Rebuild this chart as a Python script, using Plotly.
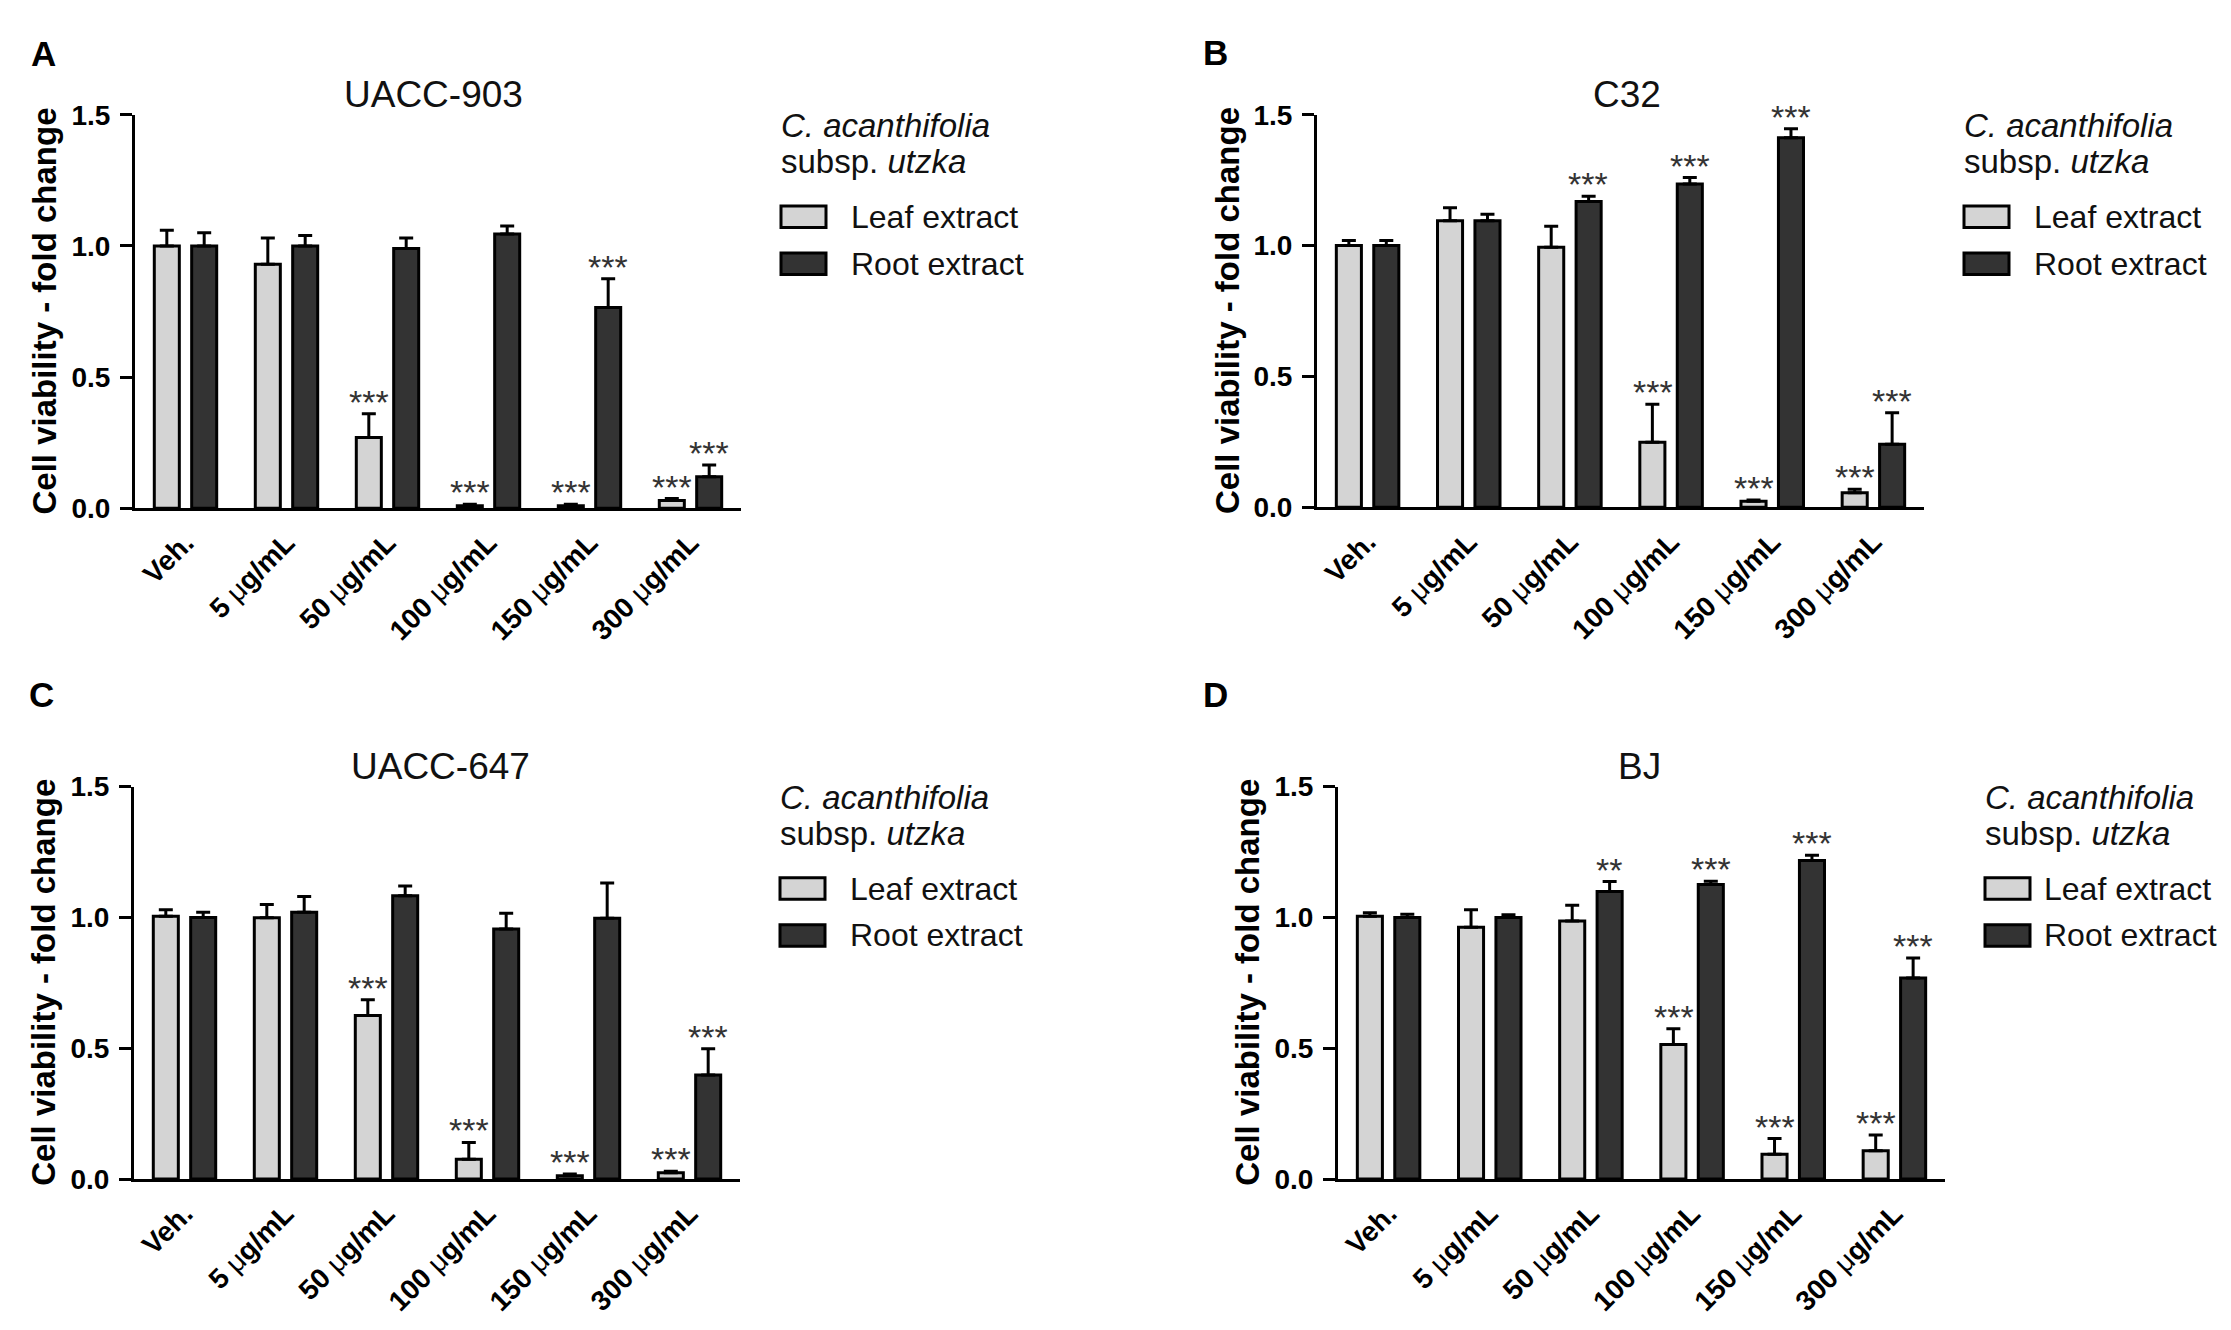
import plotly.graph_objects as go

OFF = 8  # page body margin in the browser shifts the figure by this much
W, H = 2231 - 2 * OFF, 1330 - 2 * OFF  # keep the page inside the window, no scrollbars

doses = ['Veh.', '5 μg/mL', '50 μg/mL', '100 μg/mL', '150 μg/mL', '300 μg/mL']
dose_ticks = ['<b>Veh.</b>', '<b>5 </b>μ<b>g/mL</b>', '<b>50 </b>μ<b>g/mL</b>',
              '<b>100 </b>μ<b>g/mL</b>', '<b>150 </b>μ<b>g/mL</b>', '<b>300 </b>μ<b>g/mL</b>']

# A - UACC-903
a_leaf = [1.00, 0.93, 0.27, 0.01, 0.01, 0.03]
a_leaf_err = [0.06, 0.10, 0.09, 0.005, 0.005, 0.007]
a_root = [1.00, 1.00, 0.99, 1.046, 0.765, 0.12]
a_root_err = [0.05, 0.04, 0.04, 0.03, 0.11, 0.045]
a_leaf_sig = ['', '', '***', '***', '***', '***']
a_root_sig = ['', '', '', '', '***', '***']

# B - C32
b_leaf = [1.00, 1.095, 0.994, 0.249, 0.023, 0.056]
b_leaf_err = [0.02, 0.05, 0.08, 0.145, 0.005, 0.013]
b_root = [1.00, 1.095, 1.169, 1.235, 1.412, 0.241]
b_root_err = [0.02, 0.025, 0.02, 0.025, 0.035, 0.12]
b_leaf_sig = ['', '', '', '***', '***', '***']
b_root_sig = ['', '', '***', '***', '***', '***']

# C - UACC-647
c_leaf = [1.004, 0.999, 0.625, 0.076, 0.013, 0.024]
c_leaf_err = [0.025, 0.05, 0.06, 0.064, 0.006, 0.006]
c_root = [1.00, 1.02, 1.083, 0.956, 0.997, 0.398]
c_root_err = [0.02, 0.06, 0.037, 0.06, 0.134, 0.10]
c_leaf_sig = ['', '', '***', '***', '***', '***']
c_root_sig = ['', '', '', '', '', '***']

# D - BJ
d_leaf = [1.004, 0.962, 0.986, 0.514, 0.095, 0.108]
d_leaf_err = [0.014, 0.067, 0.06, 0.06, 0.06, 0.06]
d_root = [1.00, 1.00, 1.099, 1.126, 1.217, 0.768]
d_root_err = [0.012, 0.01, 0.038, 0.012, 0.02, 0.077]
d_leaf_sig = ['', '', '', '***', '***', '***']
d_root_sig = ['', '', '**', '***', '***', '***']

LEAF = '#d4d4d4'
ROOT = '#333333'
FONT = 'Liberation Sans, Arial, sans-serif'

# letter, title, data..., pixel box (x0, x1, ytop, ybottom), letter pos, title x, legend text x
panels = [
    ('A', 'UACC-903', a_leaf, a_leaf_err, a_root, a_root_err, a_leaf_sig, a_root_sig,
     (135, 741, 102, 505), (43, 39), 433, 849),
    ('B', 'C32', b_leaf, b_leaf_err, b_root, b_root_err, b_leaf_sig, b_root_sig,
     (1317, 1924, 102, 504), (1215, 38), 1627, 2032),
    ('C', 'UACC-647', c_leaf, c_leaf_err, c_root, c_root_err, c_leaf_sig, c_root_sig,
     (134, 740, 790, 1192), (41, 696), 440, 848),
    ('D', 'BJ', d_leaf, d_leaf_err, d_root, d_root_err, d_leaf_sig, d_root_sig,
     (1338, 1945, 790, 1192), (1215, 696), 1639, 2042),
]


def fx(x):
    return (x - OFF) / W


def fy(y):
    return 1 - (y - OFF) / H


fig = go.Figure()
annotations = []
shapes = []
layout = {}

for i, (letter, title, leaf, leaf_err, root, root_err, leaf_sig, root_sig,
        box, lpos, tx, ltx) in enumerate(panels):
    n = '' if i == 0 else str(i + 1)
    xa, ya = 'x' + n, 'y' + n
    x0, x1, yt, yb = box

    for vals, errs, col in ((leaf, leaf_err, LEAF), (root, root_err, ROOT)):
        fig.add_trace(go.Bar(
            x=doses, y=vals, xaxis=xa, yaxis=ya, showlegend=False,
            marker=dict(color=col, line=dict(color='black', width=3)),
            error_y=dict(type='data', symmetric=False, array=errs,
                         arrayminus=[0] * len(errs), color='black',
                         thickness=3, width=7),
            cliponaxis=False,
        ))

    # significance stars
    for vals, errs, sig, shift in ((leaf, leaf_err, leaf_sig, -18.5),
                                   (root, root_err, root_sig, 18.5)):
        for d, v, e, s in zip(doses, vals, errs, sig):
            if s:
                annotations.append(dict(
                    x=d, y=v + e, xref=xa, yref=ya, text=s, showarrow=False,
                    xanchor='center', yanchor='bottom', xshift=shift, yshift=-9,
                    font=dict(family=FONT, size=34, color='#333333')))

    layout['xaxis' + n] = dict(
        domain=[fx(x0), fx(x1)], anchor=ya, type='category',
        range=[-0.5, 5.5], tickvals=doses, ticktext=dose_ticks,
        tickangle=-45, ticks='', showline=True, linecolor='black', linewidth=3,
        showgrid=False, zeroline=False, ticklabelstandoff=4,
        tickfont=dict(family=FONT, size=28, color='black'))
    layout['yaxis' + n] = dict(
        domain=[fy(yb), fy(yt)], anchor=xa, range=[0, 1.5],
        tickvals=[0, 0.5, 1.0, 1.5], ticktext=['0.0', '0.5', '1.0', '1.5'],
        ticks='outside', ticklen=12, tickwidth=3, tickcolor='black',
        showline=True, linecolor='black', linewidth=3, showgrid=False,
        zeroline=False, ticklabelstandoff=4,
        tickfont=dict(family=FONT, size=28, color='black', weight='bold'))

    # panel letter, title, axis title
    annotations.append(dict(
        x=fx(lpos[0]), y=fy(lpos[1]), xref='paper', yref='paper', text='<b>%s</b>' % letter,
        showarrow=False, xanchor='center', yanchor='middle',
        font=dict(family=FONT, size=35, color='black')))
    annotations.append(dict(
        x=fx(tx), y=fy(yt - 21), xref='paper', yref='paper', text=title,
        showarrow=False, xanchor='center', yanchor='middle',
        font=dict(family=FONT, size=37, color='#111111')))
    annotations.append(dict(
        x=fx(x0 - 90), y=fy((yt + yb) / 2), xref='paper', yref='paper',
        text='<b>Cell viability - fold change</b>', textangle=-90,
        showarrow=False, xanchor='center', yanchor='middle',
        font=dict(family=FONT, size=33, color='black')))

    # legend block
    lx = x1 + 38
    annotations.append(dict(
        x=fx(lx), y=fy(yt + 11), xref='paper', yref='paper',
        text='<i>C. acanthifolia</i>', showarrow=False, xanchor='left', yanchor='middle',
        font=dict(family=FONT, size=33, color='#111111')))
    annotations.append(dict(
        x=fx(lx), y=fy(yt + 48), xref='paper', yref='paper',
        text='subsp. <i>utzka</i>', showarrow=False, xanchor='left', yanchor='middle',
        font=dict(family=FONT, size=33, color='#111111')))
    for name, col, cy in (('Leaf extract', LEAF, yt + 104.5), ('Root extract', ROOT, yt + 152.5)):
        shapes.append(dict(
            type='rect', xref='paper', yref='paper',
            x0=fx(lx + 2), x1=fx(lx + 47), y0=fy(cy - 11), y1=fy(cy + 11),
            fillcolor=col, line=dict(color='black', width=3)))
        annotations.append(dict(
            x=fx(ltx), y=fy(cy), xref='paper', yref='paper', text=name,
            showarrow=False, xanchor='left', yanchor='middle',
            font=dict(family=FONT, size=32, color='#111111')))

fig.update_layout(
    width=W, height=H, margin=dict(l=0, r=0, t=0, b=0),
    paper_bgcolor='white', plot_bgcolor='white',
    barmode='group', bargap=0.26, bargroupgap=0.33,
    annotations=annotations, shapes=shapes,
    font=dict(family=FONT, color='black'),
    **layout)

fig.write_html("out.html")
